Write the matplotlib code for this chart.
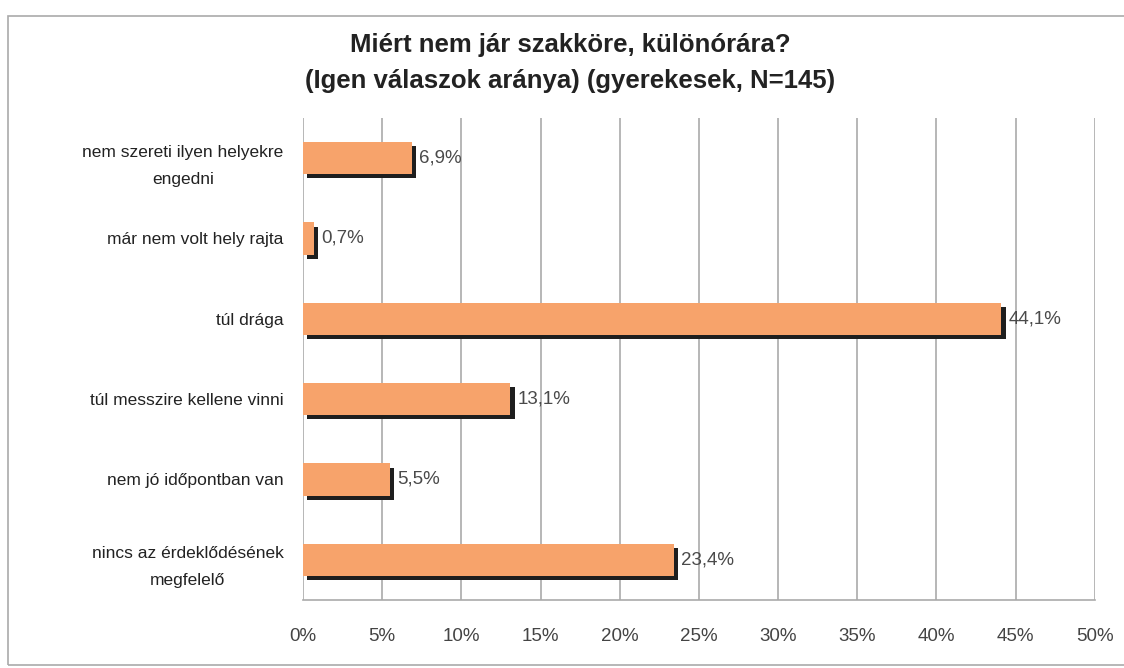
import matplotlib
matplotlib.use("Agg")
import matplotlib.pyplot as plt
import matplotlib.patheffects as pe
from matplotlib.patches import Rectangle

# data
categories = ["nem szereti ilyen helyekre\nengedni",
              "már nem volt hely rajta",
              "túl drága",
              "túl messzire kellene vinni",
              "nem jó időpontban van",
              "nincs az érdeklődésének\nmegfelelő"]
values = [6.9, 0.7, 44.1, 13.1, 5.5, 23.4]
xticks = [0, 5, 10, 15, 20, 25, 30, 35, 40, 45, 50]
title = "Miért nem jár szakköre, különórára?\n(Igen válaszok aránya) (gyerekesek, N=145)"

plt.rcParams['font.family'] = ['Liberation Sans', 'DejaVu Sans']

fig = plt.figure(figsize=(11.24, 6.68), dpi=100)
ax = fig.add_axes([0.2696, 0.1018, 0.7044, 0.7216])

# outer frame like the excel chart area (right edge runs off the scan)
fig.patches.append(Rectangle((0.007, 0.004), 1.0, 0.972, transform=fig.transFigure,
                             fill=False, edgecolor='#aaaaaa', lw=1.2))

ypos = list(range(len(categories)))
bars = ax.barh(ypos, values, height=0.40, color='#F7A36B', zorder=3)
for b in bars:
    # dark drop shadow to the right/bottom
    b.set_path_effects([pe.SimplePatchShadow(offset=(3, -3), shadow_rgbFace='#1e1e1e', alpha=1.0),
                        pe.Normal()])

for y, v in zip(ypos, values):
    ax.text(v + 0.45, y, f"{v:.1f}".replace('.', ',') + '%', va='center', ha='left',
            fontsize=13.5, color='#4a4a4a', zorder=4)

ax.set_xlim(0, 50)
ax.set_ylim(len(categories) - 0.5, -0.5)
ax.set_xticks(xticks)
ax.set_xticklabels([f"{t}%" for t in xticks], fontsize=13.5, color='#444444')
ax.set_yticks(ypos)
ax.set_yticklabels(categories, fontsize=12.5, color='#222222')
for lab in ax.get_yticklabels():
    lab.set_multialignment('center')
    lab.set_linespacing(2.0)
ax.tick_params(axis='x', length=0, pad=20)
ax.tick_params(axis='y', length=0, pad=14)

ax.grid(axis='x', color='#aaaaaa', lw=1.2, zorder=0)
ax.set_axisbelow(True)
for s in ['top', 'right', 'left']:
    ax.spines[s].set_visible(False)
ax.spines['bottom'].set_color('#aaaaaa')
ax.spines['bottom'].set_linewidth(1.2)

fig.text(0.507, 1 - 63 / 668, title, ha='center', va='center', fontsize=18.5,
         fontweight='bold', color='#222222', linespacing=1.62)

fig.savefig("out.png", dpi=100)
